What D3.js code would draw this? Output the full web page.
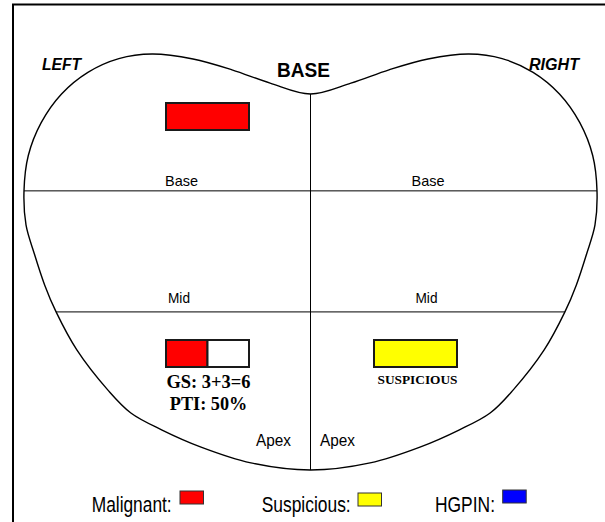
<!DOCTYPE html>
<html><head><meta charset="utf-8">
<script src="https://cdn.jsdelivr.net/npm/d3@7"></script>
<style>html,body{margin:0;padding:0;background:#fff;} svg{display:block;}</style>
</head><body>
<script>
// ---------- data ----------
const sides = ["Left", "Right"];
const sideTitles = ["LEFT", "RIGHT"];
const mainTitle = "BASE";
const zones = ["Base", "Mid", "Apex"];
// zone edges on the normalized vertical axis (0 = lobe top, 1 = apex bottom)
const zoneEdges = [0.096, 0.329, 0.620, 1.0];
// left half of the gland outline, normalized (u: -1..0, v: 0..1), from top notch to apex
const outlineU = [0, -0.141, -0.274, -0.410, -0.553, -0.669, -0.777, -0.869, -0.940, -0.985, -1.0, -0.993, -0.964, -0.928, -0.888, -0.815, -0.707, -0.627, -0.518, -0.382, -0.208, 0];
const outlineV = [0.096, 0.070, 0.038, 0.012, 0.0, 0.011, 0.044, 0.096, 0.165, 0.244, 0.329, 0.411, 0.480, 0.555, 0.620, 0.712, 0.808, 0.863, 0.904, 0.945, 0.983, 1.0];
// biopsy cores
const coreSide = ["Left", "Left", "Right"];
const coreZone = ["Base", "Apex", "Apex"];
const coreStatus = ["Malignant", "Malignant", "Suspicious"];
const coreFraction = [1, 0.5, 1];
const coreNotes = [[], ["GS: 3+3=6", "PTI: 50%"], ["SUSPICIOUS"]];
// legend
const legendLabels = ["Malignant:", "Suspicious:", "HGPIN:"];
const legendStatus = ["Malignant", "Suspicious", "HGPIN"];
const statusColors = ["#ff0000", "#ffff00", "#0000ff"];

// ---------- layout ----------
const W = 605, H = 522;
const sans = "'Liberation Sans', Arial, Helvetica, sans-serif";
const serif = "'Liberation Serif', 'Times New Roman', Times, serif";
const x = d3.scaleLinear().domain([-1, 1]).range([24, 597]);
const y = d3.scaleLinear().domain([0, 1]).range([54, 470]);
const color = d3.scaleOrdinal().domain(legendStatus).range(statusColors);
const boxW = 83, boxH = 27;
const boxX = {Left: 166, Right: 374};
const boxY = {Base: 103, Mid: 222, Apex: 340};
const zoneLabelPos = {
  Base: {Left: [181.5, 186, "middle", 33], Right: [428, 186, "middle", 33]},
  Mid:  {Left: [179, 303, "middle", 22], Right: [426.5, 303, "middle", 22]},
  Apex: {Left: [291, 446, "end", 35], Right: [320, 446, "start", 35]}
};

const svg = d3.select("body").append("svg").attr("width", W).attr("height", H);

// frame
svg.append("path").attr("d", "M13,522V4.5H605").attr("fill", "none")
  .attr("stroke", "#000").attr("stroke-width", 2);

// outline
const leftPts = outlineU.map((u, i) => [u, outlineV[i]]);
const rightPts = leftPts.slice(1, -1).reverse().map(([u, v]) => [-u, v]);
const allPts = leftPts.concat(rightPts);
svg.append("path")
  .attr("d", d3.line().x(d => x(d[0])).y(d => y(d[1])).curve(d3.curveCatmullRomClosed.alpha(0.5))(allPts))
  .attr("fill", "none").attr("stroke", "#000").attr("stroke-width", 1.4);

// center line
svg.append("line").attr("x1", x(0)).attr("x2", x(0)).attr("y1", y(zoneEdges[0])).attr("y2", y(zoneEdges[3]))
  .attr("stroke", "#000").attr("stroke-width", 1);
// zone lines
const halfWidthAt = [1.0, 0.888];
[zoneEdges[1], zoneEdges[2]].forEach((v, i) => {
  svg.append("line").attr("x1", x(-halfWidthAt[i])).attr("x2", x(halfWidthAt[i]))
    .attr("y1", y(v)).attr("y2", y(v)).attr("stroke", "#000").attr("stroke-width", 1);
});

// titles
svg.append("text").attr("x", 42).attr("y", 70).attr("font-family", sans).attr("font-size", 16)
  .attr("font-weight", "bold").attr("font-style", "italic").attr("textLength", 39).attr("lengthAdjust", "spacingAndGlyphs").text(sideTitles[0]);
svg.append("text").attr("x", 529).attr("y", 70).attr("font-family", sans).attr("font-size", 16)
  .attr("font-weight", "bold").attr("font-style", "italic").attr("textLength", 50).attr("lengthAdjust", "spacingAndGlyphs").text(sideTitles[1]);
svg.append("text").attr("x", 277).attr("y", 77).attr("font-family", sans).attr("font-size", 19.5)
  .attr("font-weight", "bold").attr("textLength", 53).attr("lengthAdjust", "spacingAndGlyphs").text(mainTitle);

// zone labels
zones.forEach(z => sides.forEach(s => {
  const p = zoneLabelPos[z][s];
  svg.append("text").attr("x", p[0]).attr("y", p[1]).attr("text-anchor", p[2])
    .attr("font-family", sans).attr("font-size", z === "Apex" ? 16 : 15)
    .attr("textLength", p[3]).attr("lengthAdjust", "spacingAndGlyphs").text(z);
}));

// cores
coreSide.forEach((s, i) => {
  const z = coreZone[i];
  const x0 = boxX[s], y0 = boxY[z];
  const fw = boxW * coreFraction[i];
  const g = svg.append("g");
  g.append("rect").attr("x", x0).attr("y", y0).attr("width", fw).attr("height", boxH)
    .attr("fill", color(coreStatus[i])).attr("stroke", "#1a1a1a").attr("stroke-width", 2);
  if (coreFraction[i] < 1) {
    g.append("rect").attr("x", x0 + fw).attr("y", y0).attr("width", boxW - fw).attr("height", boxH)
      .attr("fill", "#fff").attr("stroke", "#1a1a1a").attr("stroke-width", 2);
  }
  const notes = coreNotes[i];
  if (notes.length === 2) {
    notes.forEach((t, j) => {
      g.append("text").attr("x", x0 + boxW / 2 + 1).attr("y", y0 + 48 + j * 22).attr("text-anchor", "middle")
        .attr("font-family", serif).attr("font-size", 18).attr("font-weight", "bold")
        .attr("textLength", j === 0 ? 84 : 77.5).attr("lengthAdjust", "spacingAndGlyphs").text(t);
    });
  } else if (notes.length === 1) {
    g.append("text").attr("x", x0 + boxW / 2 + 2).attr("y", y0 + 44).attr("text-anchor", "middle")
      .attr("font-family", serif).attr("font-size", 13.5).attr("font-weight", "bold")
      .attr("textLength", 80).attr("lengthAdjust", "spacingAndGlyphs").text(notes[0]);
  }
});

// legend
const legTextX = [91.7, 261.7, 435];
const legTextW = [80, 89, 60];
const legSwX = [180, 358, 502.7];
const legSwY = [491, 493, 490];
legendLabels.forEach((t, i) => {
  svg.append("text").attr("x", legTextX[i]).attr("y", 511.7).attr("font-family", "'Liberation Sans Narrow', " + sans)
    .attr("font-size", 21.5).attr("textLength", legTextW[i]).attr("lengthAdjust", "spacingAndGlyphs").text(t);
  svg.append("rect").attr("x", legSwX[i]).attr("y", legSwY[i]).attr("width", 23.5).attr("height", 13)
    .attr("fill", color(legendStatus[i])).attr("stroke", "#333").attr("stroke-width", 1);
});
</script>
</body></html>
